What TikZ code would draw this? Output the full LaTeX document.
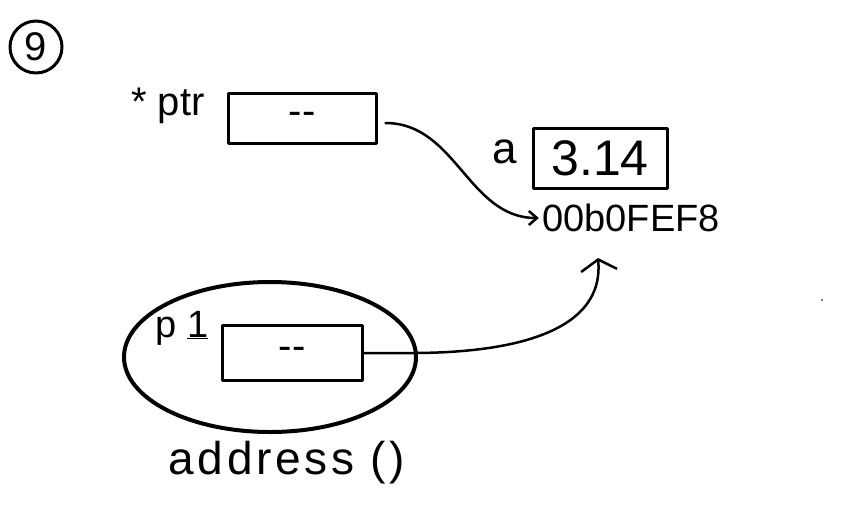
\documentclass[tikz,border=0pt]{standalone}
\usepackage{fontspec}
\setmainfont{Liberation Sans}
\usetikzlibrary{arrows.meta,shapes.geometric,calc}
\begin{document}
\begin{tikzpicture}[x=1pt,y=-1pt,line width=3pt,line cap=round,line join=round,
  lbl/.style={inner sep=0pt},
  cell/.style={draw,inner sep=0pt,font=\fontsize{40}{40}\selectfont},
  arr/.style={line width=2.5pt}]
\useasboundingbox (0,0) rectangle (859,512);
% step number
\node[draw,circle,minimum size=52pt,inner sep=0pt,font=\fontsize{40}{40}\selectfont] (num) at (36,47) {9};
% ptr
\node[lbl,font=\fontsize{40}{40}\selectfont] (ptrlbl) at (168,106) {* ptr};
\node[cell,minimum width=148pt,minimum height=50pt] (ptrbox) at (302,118) {-{}-};
% a
\node[lbl,font=\fontsize{44}{44}\selectfont] (albl) at (505,152) {a};
\node[cell,minimum width=134pt,minimum height=60pt,font=\fontsize{50}{50}\selectfont] (abox) at (600,158) {3.14};
\node[lbl,inner sep=2pt,font=\fontsize{38}{38}\selectfont] (addr) at (631,218) {00b0FEF8};
% p1 group
\node[draw,ellipse,line width=4pt,minimum width=292pt,minimum height=150pt] (grp) at (270,357) {};
\node[lbl,font=\fontsize{38}{38}\selectfont] (p1lbl) at (182,328) {p \underline{1}};
\node[cell,minimum width=140pt,minimum height=55pt] (p1box) at (292,353) {-{}-};
% function name
\node[lbl,font=\fontsize{46}{46}\selectfont\addfontfeature{LetterSpace=8}] (fn) at (287,463) {address ()};
% stray dot
\fill (822,300) circle (0.8pt);
% arrows
\coordinate (tip) at (598,258);
\draw[arr,-{Straight Barb[length=8pt,width=14pt]}] ($(ptrbox.east)+(8,5)$) to[out=0,in=180] (addr.west);
\draw[arr,-{Straight Barb[length=11pt,width=36pt]}] (p1box.east) -- ++(48,0) to[out=0,in=-85] (tip);
\end{tikzpicture}
\end{document}
